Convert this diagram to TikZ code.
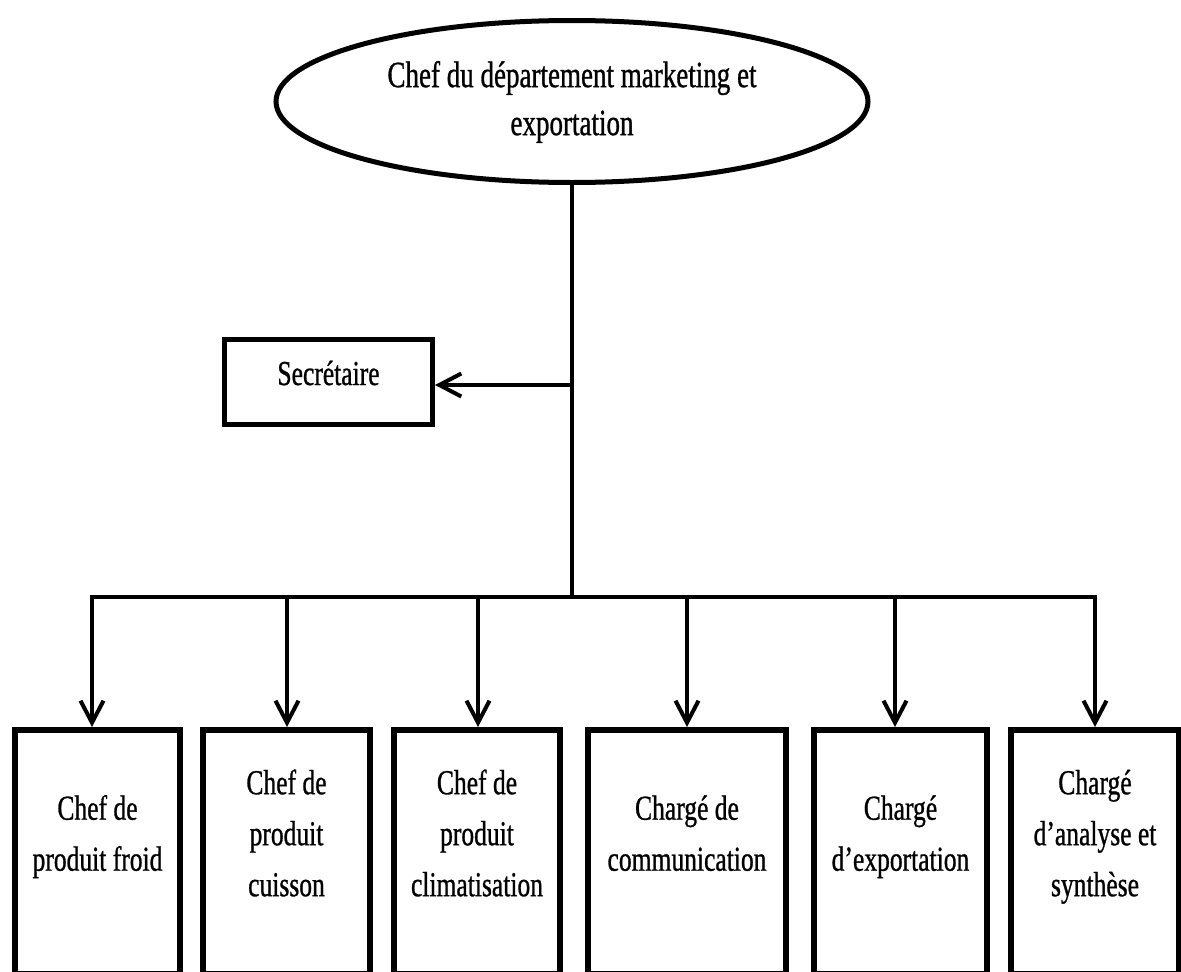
\documentclass[tikz,border=0pt]{standalone}
\usepackage{fontspec}
\setmainfont{Liberation Serif}[FakeStretch=0.73,FakeBold=0.8]
\usetikzlibrary{arrows.meta,shapes.geometric}
\begin{document}
\begin{tikzpicture}[x=1pt,y=-1pt,
  conn/.style={line width=4pt},
  barb/.tip={Straight Barb[length=22pt,width=23pt]},
  ell/.style={draw,ellipse,line width=5pt,minimum width=592pt,minimum height=162pt,inner sep=0pt,align=center,font=\fontsize{37}{48}\selectfont},
  secbox/.style={draw,line width=5pt,minimum width=208pt,minimum height=85pt,inner sep=0pt},
  lowbox/.style={draw,line width=6pt,minimum height=244pt,inner sep=0pt},
  txt/.style={align=center,inner sep=0pt,font=\fontsize{35}{51}\selectfont},
]
\useasboundingbox (0,0) rectangle (1181,972);
\clip (0,0) rectangle (1181,972);

\node[ell] (boss) at (572,101.5) {\strut Chef du département marketing et\\\strut exportation};
\coordinate (s) at (572,385);
\coordinate (j) at (572,597);

\node[secbox] (sec) at (328.5,382) {};
\node[txt] (sect) at (328.5,374.8) {\strut Secrétaire};

\node[lowbox,minimum width=165pt] (b1) at (97.5,852) {};
\node[lowbox,minimum width=167pt] (b2) at (286.5,852) {};
\node[lowbox,minimum width=166pt] (b3) at (477,852) {};
\node[lowbox,minimum width=198pt] (b4) at (687,852) {};
\node[lowbox,minimum width=173pt] (b5) at (900.5,852) {};
\node[lowbox,minimum width=168pt] (b6) at (1095,852) {};

\node[txt] (t1) at (97.5,835) {\strut Chef de\\\strut produit froid};
\node[txt] (t2) at (286.5,835) {\strut Chef de\\\strut produit\\\strut cuisson};
\node[txt] (t3) at (477,835) {\strut Chef de\\\strut produit\\\strut climatisation};
\node[txt] (t4) at (687,835) {\strut Chargé de\\\strut communication};
\node[txt] (t5) at (900.5,835) {\strut Chargé\\\strut d’exportation};
\node[txt] (t6) at (1095,835) {\strut Chargé\\\strut d’analyse et\\\strut synthèse};

\coordinate (c1) at (92,597);
\coordinate (c2) at (287,597);
\coordinate (c3) at (478,597);
\coordinate (c4) at (687,597);
\coordinate (c5) at (895,597);
\coordinate (c6) at (1095,597);

\draw[conn] (boss.south) -- (j);
\draw[conn,-barb] (s) -- (s -| sec.east);
\draw[conn,barb-barb] (c1 |- b1.north) -- (c1) -- (c6) -- (c6 |- b6.north);
\draw[conn,-barb] (c2) -- (c2 |- b2.north);
\draw[conn,-barb] (c3) -- (c3 |- b3.north);
\draw[conn,-barb] (c4) -- (c4 |- b4.north);
\draw[conn,-barb] (c5) -- (c5 |- b5.north);
\end{tikzpicture}
\end{document}
